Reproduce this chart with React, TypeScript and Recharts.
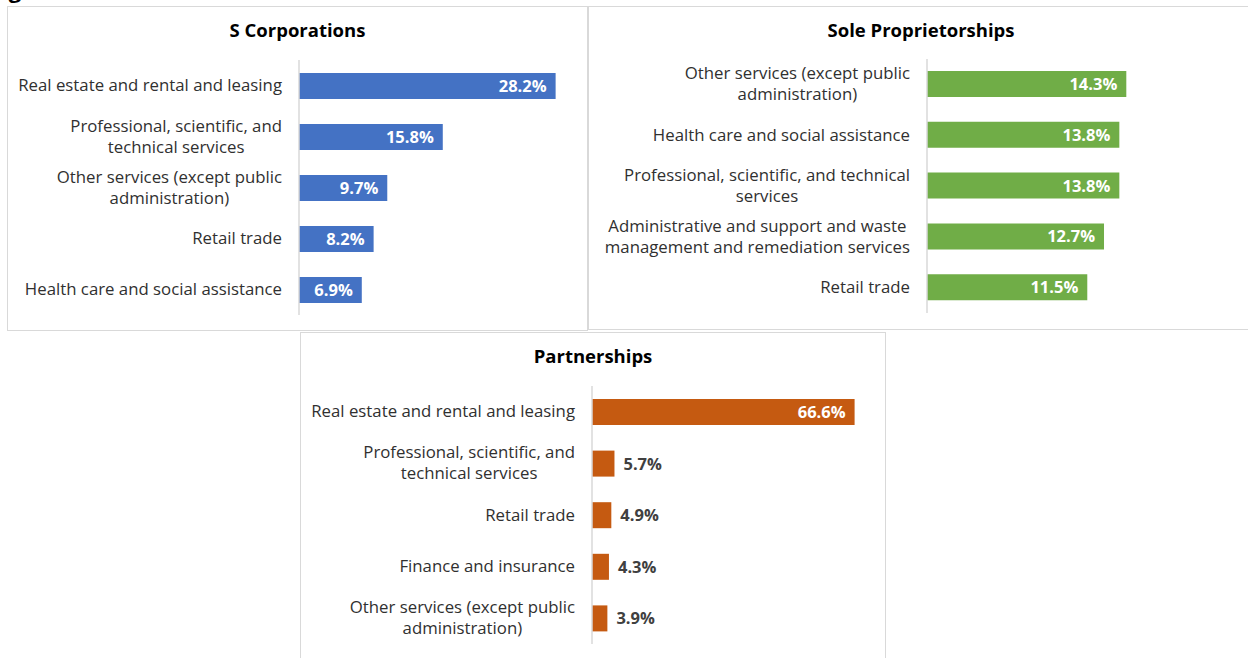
import { Bar, BarChart, LabelList, XAxis, YAxis } from 'recharts'

const sCorpIndustries = [
  'Real estate and rental and leasing',
  'Professional, scientific, and technical services',
  'Other services (except public administration)',
  'Retail trade',
  'Health care and social assistance',
]
const sCorpShares = [28.2, 15.8, 9.7, 8.2, 6.9]

const soleIndustries = [
  'Other services (except public administration)',
  'Health care and social assistance',
  'Professional, scientific, and technical services',
  'Administrative and support and waste management and remediation services',
  'Retail trade',
]
const soleShares = [14.3, 13.8, 13.8, 12.7, 11.5]

const partnershipIndustries = [
  'Real estate and rental and leasing',
  'Professional, scientific, and technical services',
  'Retail trade',
  'Finance and insurance',
  'Other services (except public administration)',
]
const partnershipShares = [66.6, 5.7, 4.9, 4.3, 3.9]

const FONT = '"Open Sans", Lato, sans-serif'
const TICK_FONT_SIZE = 16.8
const VALUE_FONT_SIZE = 16.5
const LINE_HEIGHT = 21

let ctx: CanvasRenderingContext2D | null = null
const measure = (text: string, weight = 'normal', size = TICK_FONT_SIZE) => {
  if (!ctx) ctx = document.createElement('canvas').getContext('2d')
  if (!ctx) return text.length * size * 0.46
  ctx.font = `${weight} ${size}px ${FONT}`
  return ctx.measureText(text).width
}

const wrapText = (text: string, maxWidth: number) => {
  const words = text.split(' ')
  const lines: string[] = []
  let current = ''
  words.forEach((word) => {
    const next = current ? `${current} ${word}` : word
    if (current && measure(next) > maxWidth) {
      lines.push(current)
      current = word
    } else {
      current = next
    }
  })
  if (current) lines.push(current)
  return lines
}

const toRows = (names: string[], values: number[]) =>
  names.map((name, i) => ({ name, share: values[i] }))

type TickProps = { x?: number; y?: number; payload?: { value: string }; wrapWidth: number }

// multi-line labels are centred on each other, block right-aligned to the axis
const CategoryTick = ({ x = 0, y = 0, payload, wrapWidth }: TickProps) => {
  const lines = wrapText(payload?.value ?? '', wrapWidth)
  const blockWidth = Math.max(...lines.map((l) => measure(l)))
  const cx = x - blockWidth / 2
  const startY = y - 1.5 - ((lines.length - 1) * LINE_HEIGHT) / 2
  return (
    <text
      textAnchor="middle"
      fill="#303030"
      fontFamily={FONT}
      fontSize={TICK_FONT_SIZE}
      dominantBaseline="central"
    >
      {lines.map((line, i) => (
        <tspan key={i} x={cx} y={startY + i * LINE_HEIGHT}>
          {line}
        </tspan>
      ))}
    </text>
  )
}

const ValueLabel = (props: any) => {
  const { x, y, width, height, value } = props
  const text = `${Number(value).toFixed(1)}%`
  const textWidth = measure(text, 'bold', VALUE_FONT_SIZE)
  const inside = width > textWidth + 14
  return (
    <text
      x={inside ? x + width - 9 : x + width + 9}
      y={y + height / 2 - 0.5}
      textAnchor={inside ? 'end' : 'start'}
      dominantBaseline="central"
      fill={inside ? '#ffffff' : '#404040'}
      fontFamily={FONT}
      fontWeight="bold"
      fontSize={VALUE_FONT_SIZE}
    >
      {text}
    </text>
  )
}

type PanelProps = {
  title: string
  rows: { name: string; share: number }[]
  color: string
  domainMax: number
  left: number
  top: number
  width: number
  height: number
  axisWidth: number
  wrapWidth: number
  margin: { top: number; right: number; bottom: number; left: number }
}

function Panel({
  title,
  rows,
  color,
  domainMax,
  left,
  top,
  width,
  height,
  axisWidth,
  wrapWidth,
  margin,
}: PanelProps) {
  return (
    <div
      style={{
        position: 'absolute',
        left,
        top,
        width,
        height,
        boxSizing: 'border-box',
        border: '1px solid #d9d9d9',
        background: '#fff',
      }}
    >
      <div
        style={{
          position: 'absolute',
          left: -1,
          top: 10,
          width,
          textAlign: 'center',
          fontFamily: FONT,
          fontWeight: 'bold',
          fontSize: 18.5,
          color: '#000',
        }}
      >
        {title}
      </div>
      <div style={{ position: 'absolute', left: -1, top: -1 }}>
        <BarChart
          width={width}
          height={height}
          data={rows}
          layout="vertical"
          margin={margin}
          barSize={26}
        >
          <XAxis type="number" domain={[0, domainMax]} hide />
          <YAxis
            type="category"
            dataKey="name"
            width={axisWidth}
            axisLine={{ stroke: '#d9d9d9', strokeWidth: 1.5 }}
            tickLine={false}
            tickSize={0}
            tickMargin={17}
            interval={0}
            tick={<CategoryTick wrapWidth={wrapWidth} />}
          />
          <Bar dataKey="share" fill={color} isAnimationActive={false}>
            <LabelList dataKey="share" content={<ValueLabel />} />
          </Bar>
        </BarChart>
      </div>
    </div>
  )
}

export default function App() {
  return (
    <div
      style={{
        position: 'absolute',
        left: 0,
        top: 0,
        width: 1248,
        height: 658,
        overflow: 'hidden',
        background: '#fff',
      }}
    >
      <div
        style={{
          position: 'absolute',
          left: -10,
          top: -26,
          fontFamily: FONT,
          fontWeight: 'bold',
          fontSize: 22,
          color: '#000',
        }}
      >
        Figure
      </div>
      <Panel
        title="S Corporations"
        rows={toRows(sCorpIndustries, sCorpShares)}
        color="#4472c4"
        domainMax={30}
        left={7}
        top={6}
        width={581}
        height={325}
        axisWidth={292}
        wrapWidth={270}
        margin={{ top: 54, right: 16, bottom: 16, left: 0 }}
      />
      <Panel
        title="Sole Proprietorships"
        rows={toRows(soleIndustries, soleShares)}
        color="#70ad47"
        domainMax={16}
        left={588}
        top={6}
        width={666}
        height={324}
        axisWidth={339}
        wrapWidth={315}
        margin={{ top: 53, right: 104, bottom: 17, left: 0 }}
      />
      <Panel
        title="Partnerships"
        rows={toRows(partnershipIndustries, partnershipShares)}
        color="#c55a11"
        domainMax={70}
        left={300}
        top={332}
        width={586}
        height={340}
        axisWidth={292}
        wrapWidth={270}
        margin={{ top: 54, right: 18, bottom: 28, left: 0 }}
      />
    </div>
  )
}
